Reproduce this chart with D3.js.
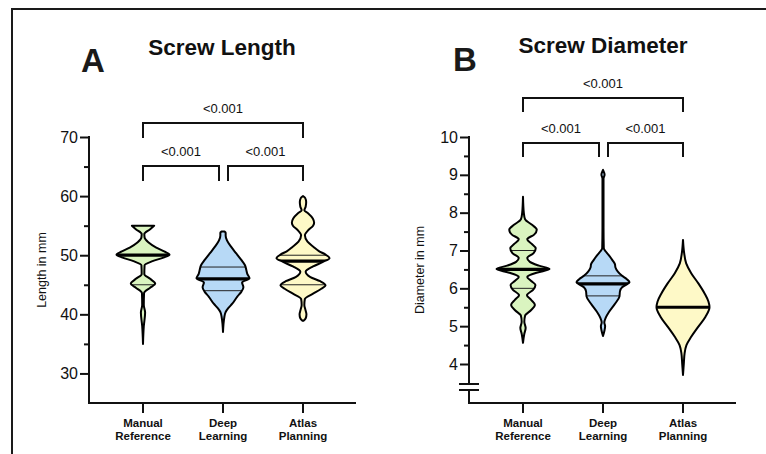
<!DOCTYPE html>
<html>
<head>
<meta charset="utf-8">
<script src="https://cdn.jsdelivr.net/npm/d3@7"></script>
<style>
body { margin: 0; background: #fff; }
svg { display: block; font-family: "Liberation Sans", Arial, Helvetica, sans-serif; }
</style>
</head>
<body>
<svg id="chart" width="766" height="454"></svg>
<script>
// groups
var categories = ['Manual Reference', 'Deep Learning', 'Atlas Planning'];
var categoryLines = [['Manual', 'Reference'], ['Deep', 'Learning'], ['Atlas', 'Planning']];
var fills = ['#daf4c0', '#b7d9f6', '#fef9c7'];

// violin outlines: [value, relative half width]
var lengthManual = [[35.0, 0], [38.0, 0.03], [40.3, 0.08], [41.6, 0.03], [43.6, 0.04], [44.5, 0.27], [45.2, 0.46], [46.0, 0.27], [46.8, 0.05], [48.3, 0.06], [49.0, 0.36], [49.6, 0.77], [50.1, 1.0], [50.6, 0.82], [51.3, 0.5], [52.2, 0.2], [53.0, 0.06], [53.6, 0.05], [54.4, 0.27], [55.0, 0.42]];
var lengthDeep = [[37.0, 0], [39.5, 0.05], [40.4, 0.1], [41.0, 0.19], [41.8, 0.35], [43.0, 0.54], [43.8, 0.69], [44.6, 0.77], [45.4, 0.72], [46.1, 1.0], [46.8, 0.92], [47.5, 0.88], [48.3, 0.83], [49.2, 0.69], [50.3, 0.5], [51.4, 0.31], [52.5, 0.15], [53.3, 0.1], [53.8, 0.1], [54.0, 0.06]];
var lengthAtlas = [[38.9, 0.02], [39.3, 0.1], [40.0, 0.13], [40.8, 0.09], [41.6, 0.05], [42.6, 0.07], [43.5, 0.38], [44.2, 0.65], [44.9, 0.85], [45.6, 0.65], [46.3, 0.28], [47.2, 0.1], [48.1, 0.38], [48.9, 0.77], [49.5, 1.0], [50.1, 0.85], [50.7, 0.6], [51.4, 0.4], [52.3, 0.17], [53.4, 0.07], [54.2, 0.19], [55.0, 0.38], [55.5, 0.42], [56.2, 0.37], [57.1, 0.19], [57.6, 0.05], [58.2, 0.1], [59.0, 0.12], [59.7, 0.08], [60.0, 0]];

var diameterManual = [[4.56, 0], [4.8, 0.05], [4.95, 0.1], [5.12, 0.05], [5.28, 0.08], [5.42, 0.3], [5.56, 0.45], [5.7, 0.3], [5.82, 0.15], [5.96, 0.38], [6.09, 0.47], [6.2, 0.3], [6.3, 0.16], [6.42, 0.55], [6.51, 1.0], [6.6, 0.6], [6.7, 0.26], [6.8, 0.16], [6.93, 0.4], [7.06, 0.48], [7.18, 0.32], [7.3, 0.16], [7.42, 0.42], [7.55, 0.52], [7.68, 0.34], [7.82, 0.08], [8.0, 0.03], [8.42, 0]];
var diameterDeep = [[4.74, 0], [4.9, 0.06], [5.0, 0.08], [5.1, 0.05], [5.22, 0.1], [5.38, 0.23], [5.6, 0.46], [5.78, 0.62], [5.92, 0.64], [6.03, 0.72], [6.1, 0.88], [6.16, 1.0], [6.24, 0.9], [6.33, 0.72], [6.44, 0.56], [6.55, 0.47], [6.64, 0.45], [6.74, 0.36], [6.86, 0.24], [6.96, 0.12], [7.06, 0.03], [7.6, 0.02], [8.9, 0.02], [9.0, 0.06], [9.13, 0]];
var diameterAtlas = [[3.71, 0], [4.0, 0.03], [4.28, 0.06], [4.5, 0.13], [4.72, 0.31], [4.99, 0.58], [5.25, 0.85], [5.5, 1.0], [5.65, 0.96], [5.87, 0.81], [6.13, 0.58], [6.4, 0.31], [6.66, 0.12], [6.95, 0.04], [7.28, 0]];

// [q1, median, q3]
var lengthQuartiles = [[45, 50, 50], [44, 46, 48], [45, 49, 50]];
var diameterQuartiles = [[6, 6.5, 7], [5.8, 6.12, 6.33], [5.5, 5.5, 5.5]];

var lengthTicks = [30, 40, 50, 60, 70];
var lengthMinor = [35, 45, 55, 65];
var diameterTicks = [4, 5, 6, 7, 8, 9, 10];
var diameterMinor = [4.5, 5.5, 6.5, 7.5, 8.5, 9.5];

// [from, to, label]
var comparisons = [[0, 2, '<0.001'], [0, 1, '<0.001'], [1, 2, '<0.001']];

var svg = d3.select('#chart');

// frame round the figure
svg.append('path')
  .attr('d', 'M12,460V9H770')
  .attr('fill', 'none')
  .attr('stroke', '#1a1a1a')
  .attr('stroke-width', 2);

var drawPanel = function (p) {
  var g = svg.append('g');
  var bottom = 403;
  var y = d3.scaleLinear().domain(p.domain).range(p.range);
  var x = d3.scalePoint().domain(categories).range([p.x0 + 54, p.x0 + 214]);
  var w = d3.scaleLinear().domain([0, 1]).range([0, 26.5]);

  // letter + title
  g.append('text').attr('x', p.letterX).attr('y', p.letterY)
    .attr('font-size', 33).attr('font-weight', 'bold').attr('fill', '#1a1a1a').text(p.letter);
  g.append('text').attr('x', p.titleX).attr('y', p.titleY).attr('text-anchor', 'middle')
    .attr('font-size', 22.5).attr('font-weight', 'bold').attr('fill', '#111').text(p.title);

  // y axis
  var yAxis = d3.axisLeft(y).tickValues(p.ticks).tickSize(9).tickPadding(2).tickFormat(d3.format('d'));
  var ya = g.append('g').attr('transform', 'translate(' + p.x0 + ',0)').call(yAxis);
  ya.select('.domain').remove();
  ya.selectAll('line').attr('stroke', '#111').attr('stroke-width', 2);
  ya.selectAll('text').attr('font-size', 16).attr('fill', '#111').attr('font-family', null);
  var ym = g.append('g').attr('transform', 'translate(' + p.x0 + ',0)')
    .call(d3.axisLeft(y).tickValues(p.minor).tickSize(5).tickFormat(''));
  ym.select('.domain').remove();
  ym.selectAll('line').attr('stroke', '#111').attr('stroke-width', 2);

  var top = y(p.domain[1]);
  if (p.axisBreak) {
    g.append('line').attr('x1', p.x0).attr('x2', p.x0).attr('y1', top - 1).attr('y2', 384)
      .attr('stroke', '#111').attr('stroke-width', 2);
    g.append('line').attr('x1', p.x0).attr('x2', p.x0).attr('y1', 390).attr('y2', bottom)
      .attr('stroke', '#111').attr('stroke-width', 2);
    [384, 390].forEach(function (yy) {
      g.append('line').attr('x1', p.x0 - 10).attr('x2', p.x0 + 10).attr('y1', yy).attr('y2', yy)
        .attr('stroke', '#111').attr('stroke-width', 2);
    });
  } else {
    g.append('line').attr('x1', p.x0).attr('x2', p.x0).attr('y1', top - 1).attr('y2', bottom)
      .attr('stroke', '#111').attr('stroke-width', 2);
  }

  g.append('text')
    .attr('transform', 'translate(' + p.labelX + ',' + ((top + bottom) / 2) + ') rotate(-90)')
    .attr('text-anchor', 'middle').attr('dy', '0.35em')
    .attr('font-size', 12.5).attr('fill', '#111').text(p.ylabel);

  // x axis
  g.append('line').attr('x1', p.x0 - 1).attr('x2', p.x1).attr('y1', bottom).attr('y2', bottom)
    .attr('stroke', '#111').attr('stroke-width', 2);
  categories.forEach(function (c, i) {
    g.append('line').attr('x1', x(c)).attr('x2', x(c)).attr('y1', bottom).attr('y2', bottom + 10)
      .attr('stroke', '#111').attr('stroke-width', 2);
    var t = g.append('text').attr('text-anchor', 'middle').attr('font-size', 11.5)
      .attr('font-weight', 'bold').attr('fill', '#111');
    categoryLines[i].forEach(function (line, k) {
      t.append('tspan').attr('x', x(c)).attr('y', 427 + k * 13).text(line);
    });
  });

  // violins
  p.violins.forEach(function (prof, i) {
    var cx = x(categories[i]);
    var area = d3.area()
      .y(function (d) { return y(d[0]); })
      .x0(function (d) { return cx - w(d[1]); })
      .x1(function (d) { return cx + w(d[1]); })
      .curve(d3.curveMonotoneY);
    var id = 'clip-' + p.letter + i;
    g.append('clipPath').attr('id', id).append('path').attr('d', area(prof));
    g.append('path').attr('d', area(prof)).attr('fill', fills[i]);
    var q = p.quartiles[i];
    var lines = g.append('g').attr('clip-path', 'url(#' + id + ')');
    [q[0], q[2]].forEach(function (v) {
      lines.append('line').attr('x1', cx - 40).attr('x2', cx + 40).attr('y1', y(v)).attr('y2', y(v))
        .attr('stroke', '#222').attr('stroke-width', 1);
    });
    lines.append('line').attr('x1', cx - 40).attr('x2', cx + 40).attr('y1', y(q[1])).attr('y2', y(q[1]))
      .attr('stroke', '#000').attr('stroke-width', 3.2);
    g.append('path').attr('d', area(prof)).attr('fill', 'none')
      .attr('stroke', '#000').attr('stroke-width', 2).attr('stroke-linejoin', 'round');
  });

  // significance brackets
  comparisons.forEach(function (cmp, k) {
    var top2 = k === 0 ? p.bracketTop : p.bracketLow;
    var xa = x(categories[cmp[0]]);
    var xb = x(categories[cmp[1]]);
    if (k === 1) xb -= 4;
    if (k === 2) xa += 5;
    g.append('path')
      .attr('d', 'M' + xa + ',' + (top2 + p.drop) + 'V' + top2 + 'H' + xb + 'V' + (top2 + p.drop))
      .attr('fill', 'none').attr('stroke', '#111').attr('stroke-width', 2);
    g.append('text').attr('x', (xa + xb) / 2).attr('y', top2 - 10).attr('text-anchor', 'middle')
      .attr('font-size', 13).attr('fill', '#111').text(cmp[2]);
  });
};

drawPanel({
  letter: 'A', letterX: 81, letterY: 72,
  title: 'Screw Length', titleX: 222, titleY: 55,
  ylabel: 'Length in mm', labelX: 42,
  x0: 89, x1: 356,
  domain: [25, 70], range: [403, 137],
  ticks: lengthTicks, minor: lengthMinor,
  violins: [lengthManual, lengthDeep, lengthAtlas],
  quartiles: lengthQuartiles,
  bracketTop: 123, bracketLow: 166, drop: 15,
  axisBreak: false
});

drawPanel({
  letter: 'B', letterX: 453, letterY: 71,
  title: 'Screw Diameter', titleX: 603, titleY: 53,
  ylabel: 'Diameter in mm', labelX: 420,
  x0: 469, x1: 736,
  domain: [4, 10], range: [364, 137],
  ticks: diameterTicks, minor: diameterMinor,
  violins: [diameterManual, diameterDeep, diameterAtlas],
  quartiles: diameterQuartiles,
  bracketTop: 98, bracketLow: 143, drop: 14,
  axisBreak: true
});
</script>
</body>
</html>
